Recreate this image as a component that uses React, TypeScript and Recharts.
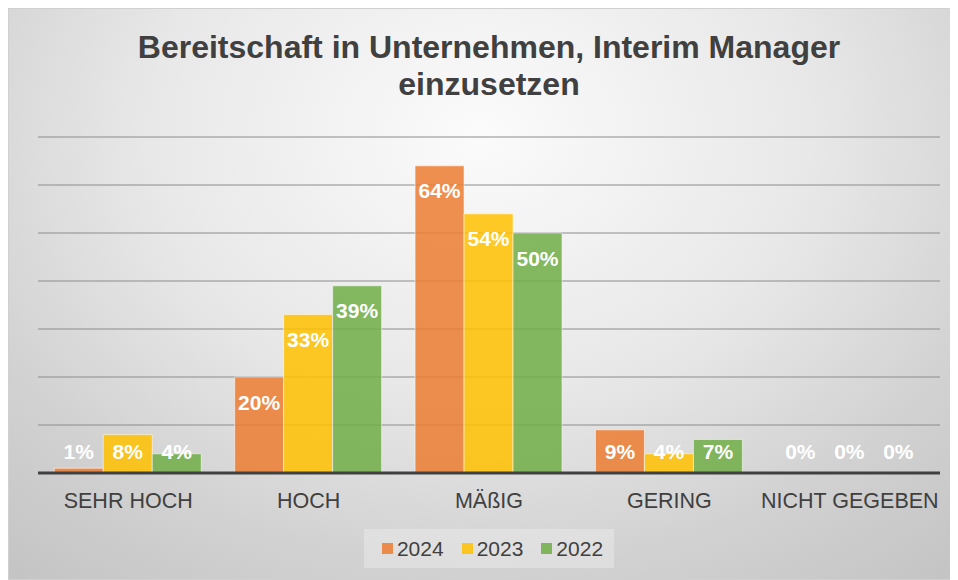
import { BarChart, Bar, XAxis, YAxis, CartesianGrid, Legend, LabelList } from "recharts";

const categories = ["SEHR HOCH", "HOCH", "MÄßIG", "GERING", "NICHT GEGEBEN"];
const values2024 = [1, 20, 64, 9, 0];
const values2023 = [8, 33, 54, 4, 0];
const values2022 = [4, 39, 50, 7, 0];
const yTicks = [0, 10, 20, 30, 40, 50, 60, 70];

const seriesList = [
  { key: "y2024", name: "2024", color: "#ED7D31" },
  { key: "y2023", name: "2023", color: "#FFC000" },
  { key: "y2022", name: "2022", color: "#70AD47" },
];

const data = categories.map((c, i) => ({
  cat: c,
  y2024: values2024[i],
  y2023: values2023[i],
  y2022: values2022[i],
}));

const FONT = "'Liberation Sans', Arial, sans-serif";
const W = 944;
const H = 572;

// Excel-style inside-end label: drops to just above the baseline when the bar is short
const renderLabel = (props: any) => {
  const { x, y, width, height, value } = props;
  const h = Math.abs(height || 0);
  const top = height < 0 ? y + height : y;
  const cy = Math.min(top + 25, top + h - 22);
  return (
    <text
      x={x + width / 2}
      y={cy}
      textAnchor="middle"
      dominantBaseline="central"
      fill="#ffffff"
      fontSize={21}
      fontWeight="bold"
      fontFamily={FONT}
    >
      {Math.round(value)}%
    </text>
  );
};

const LegendBox = () => (
  <div style={{ display: "flex", justifyContent: "center" }}>
    <div
      style={{
        display: "flex",
        alignItems: "center",
        height: 39,
        padding: "0 11px 0 18px",
        background: "rgba(255,255,255,0.28)",
        fontFamily: FONT,
        fontSize: 21,
        color: "#404040",
      }}
    >
      {seriesList.map((s, i) => (
        <div key={s.key} style={{ display: "flex", alignItems: "center", marginLeft: i === 0 ? 0 : 18 }}>
          <span style={{ width: 11, height: 11, background: s.color, opacity: 0.85, marginRight: 4 }} />
          <span>{s.name}</span>
        </div>
      ))}
    </div>
  </div>
);

export default function App() {
  return (
    <div
      style={{
        position: "relative",
        width: W,
        height: H,
        background:
          "radial-gradient(ellipse 78% 100% at 50% 22%, #fbfbfb 0%, #e8e8e8 45%, #d2d2d2 75%, #c4c4c4 100%)",
        boxShadow: "inset 0 0 0 1px #d0d0d0",
        fontFamily: FONT,
      }}
    >
      <div
        style={{
          position: "absolute",
          left: 30,
          width: W - 42,
          top: 21,
          textAlign: "center",
          fontSize: 32,
          lineHeight: "37px",
          fontWeight: "bold",
          color: "#404040",
        }}
      >
        Bereitschaft in Unternehmen, Interim Manager
        <br />
        einzusetzen
      </div>
      <div style={{ position: "absolute", left: 0, top: 0 }}>
        <BarChart
          width={W}
          height={H}
          data={data}
          margin={{ top: 129, right: 12, left: 30, bottom: 12 }}
          barCategoryGap="9%"
          barGap={0}
        >
          <CartesianGrid vertical={false} stroke="#8c8c8c" strokeWidth={1} />
          <YAxis hide domain={[0, 70]} ticks={yTicks} />
          <XAxis
            dataKey="cat"
            height={56}
            tickLine={false}
            tickMargin={14}
            axisLine={{ stroke: "#404040", strokeWidth: 3 }}
            tick={{ fontSize: 21.5, fill: "#404040", fontFamily: FONT }}
            interval={0}
          />
          <Legend verticalAlign="bottom" content={<LegendBox />} />
          {seriesList.map((s) => (
            <Bar
              key={s.key}
              dataKey={s.key}
              name={s.name}
              fill={s.color}
              fillOpacity={0.85}
              stroke="rgba(255,255,255,0.55)"
              strokeWidth={1}
              minPointSize={0.01}
              isAnimationActive={false}
            >
              <LabelList dataKey={s.key} content={renderLabel} />
            </Bar>
          ))}
        </BarChart>
      </div>
    </div>
  );
}
